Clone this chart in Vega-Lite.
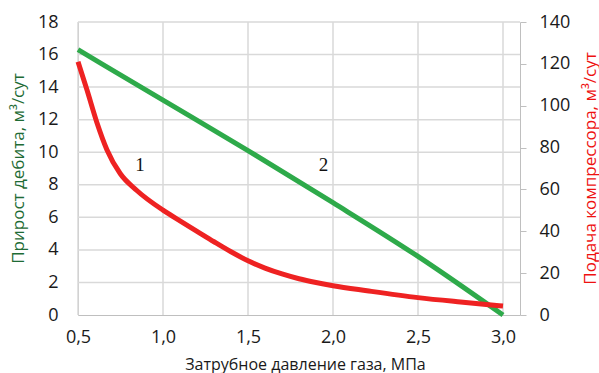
{
  "$schema": "https://vega.github.io/schema/vega-lite/v6.json",
  "width": 442,
  "height": 293,
  "autosize": "none",
  "padding": {"left": 78, "top": 22, "right": 79, "bottom": 58},
  "background": "white",
  "config": {
    "view": {"stroke": null},
    "font": "Open Sans",
    "axis": {"labelFont": "Open Sans", "titleFont": "Open Sans", "labelFontSize": 18, "titleFontSize": 16, "labelColor": "#1a1a1a", "titleFontWeight": "normal", "grid": false, "domainColor": "#bfbfbf", "tickColor": "#bfbfbf", "labelOverlap": false, "labelFlush": false}
  },
  "datasets": {
    "gx": [{"p": 0.5}, {"p": 1.0}, {"p": 1.5}, {"p": 2.0}, {"p": 2.5}, {"p": 3.0}],
    "gy": [{"v": 2}, {"v": 4}, {"v": 6}, {"v": 8}, {"v": 10}, {"v": 12}, {"v": 14}, {"v": 16}, {"v": 18}],
    "green": [
      {"p": 0.5, "v": 16.3},
      {"p": 1.0, "v": 13.2},
      {"p": 1.5, "v": 10.1},
      {"p": 2.0, "v": 6.9},
      {"p": 2.5, "v": 3.6},
      {"p": 3.0, "v": 0.0}
    ],
    "red": [
      {"p": 0.5, "q": 121},
      {"p": 0.553, "q": 107.5},
      {"p": 0.611, "q": 92},
      {"p": 0.67, "q": 79},
      {"p": 0.748, "q": 67.6},
      {"p": 0.846, "q": 59.5},
      {"p": 1.0, "q": 50.1},
      {"p": 1.1, "q": 45.0},
      {"p": 1.2, "q": 40.0},
      {"p": 1.3, "q": 35.0},
      {"p": 1.4, "q": 30.2},
      {"p": 1.5, "q": 25.9},
      {"p": 1.6, "q": 22.4},
      {"p": 1.7, "q": 19.6},
      {"p": 1.8, "q": 17.3},
      {"p": 1.9, "q": 15.5},
      {"p": 2.0, "q": 14.0},
      {"p": 2.2, "q": 11.6},
      {"p": 2.5, "q": 8.3},
      {"p": 2.75, "q": 6.2},
      {"p": 3.0, "q": 4.3}
    ],
    "labels": [
      {"p": 0.865, "v": 9.2, "t": "1"},
      {"p": 1.944, "v": 9.2, "t": "2"}
    ]
  },
  "layer": [
    {
      "layer": [
        {
          "data": {"name": "gx"},
          "mark": {"type": "rule", "color": "#d9d9d9", "strokeWidth": 1.5},
          "encoding": {
            "x": {"field": "p", "type": "quantitative", "scale": {"domain": [0.5, 3.1], "nice": false, "zero": false},
              "axis": {"values": [0.5, 1.0, 1.5, 2.0, 2.5, 3.0], "labelExpr": "replace(format(datum.value, '.1f'), '.', ',')", "ticks": false, "labelPadding": 13, "title": "Затрубное давление газа, МПа", "titleColor": "#1a1a1a", "titleX": 227, "titleY": 49, "titleBaseline": "middle"}}
          }
        },
        {
          "data": {"name": "gy"},
          "mark": {"type": "rule", "color": "#d9d9d9", "strokeWidth": 1.5},
          "encoding": {
            "y": {"field": "v", "type": "quantitative", "scale": {"domain": [0, 18], "nice": false},
              "axis": {"values": [0, 2, 4, 6, 8, 10, 12, 14, 16, 18], "ticks": false, "labelPadding": 20, "title": "Прирост дебита, м³/сут", "titleColor": "#1e6b35", "titleFontSize": 17, "titleX": -60, "titleY": 146, "titleAngle": -90, "titleAlign": "center", "titleBaseline": "middle"}}
          }
        },
        {
          "data": {"name": "green"},
          "mark": {"type": "line", "color": "#2eaa4a", "strokeWidth": 5, "strokeCap": "butt", "interpolate": "monotone"},
          "encoding": {
            "x": {"field": "p", "type": "quantitative",
              "axis": {"values": [0.5, 1.0, 1.5, 2.0, 2.5, 3.0], "labelExpr": "replace(format(datum.value, '.1f'), '.', ',')", "ticks": false, "labelPadding": 13, "title": "Затрубное давление газа, МПа", "titleColor": "#1a1a1a", "titleX": 227, "titleY": 49, "titleBaseline": "middle"}},
            "y": {"field": "v", "type": "quantitative",
              "axis": {"values": [0, 2, 4, 6, 8, 10, 12, 14, 16, 18], "ticks": false, "labelPadding": 20, "title": "Прирост дебита, м³/сут", "titleColor": "#1e6b35", "titleFontSize": 17, "titleX": -60, "titleY": 146, "titleAngle": -90, "titleAlign": "center", "titleBaseline": "middle"}}
          }
        },
        {
          "data": {"name": "labels"},
          "mark": {"type": "text", "font": "Liberation Serif", "fontSize": 19, "color": "#111111"},
          "encoding": {
            "x": {"field": "p", "type": "quantitative"},
            "y": {"field": "v", "type": "quantitative",
              "axis": {"values": [0, 2, 4, 6, 8, 10, 12, 14, 16, 18], "ticks": false, "labelPadding": 20, "title": "Прирост дебита, м³/сут", "titleColor": "#1e6b35", "titleFontSize": 17, "titleX": -60, "titleY": 146, "titleAngle": -90, "titleAlign": "center", "titleBaseline": "middle"}},
            "text": {"field": "t"}
          }
        }
      ]
    },
    {
      "data": {"name": "red"},
      "mark": {"type": "line", "color": "#ee2222", "strokeWidth": 5, "interpolate": "monotone", "strokeCap": "butt"},
      "encoding": {
        "x": {"field": "p", "type": "quantitative"},
        "y": {"field": "q", "type": "quantitative", "scale": {"domain": [0, 140], "nice": false},
          "axis": {"orient": "right", "values": [0, 20, 40, 60, 80, 100, 120, 140], "ticks": true, "tickSize": 6, "labelPadding": 13, "title": "Подача компрессора, м³/сут", "titleColor": "#ee1111", "titleFontSize": 17, "titleX": 70, "titleY": 146, "titleAngle": -90, "titleAlign": "center", "titleBaseline": "middle"}}
      }
    }
  ],
  "resolve": {"scale": {"y": "independent"}}
}
